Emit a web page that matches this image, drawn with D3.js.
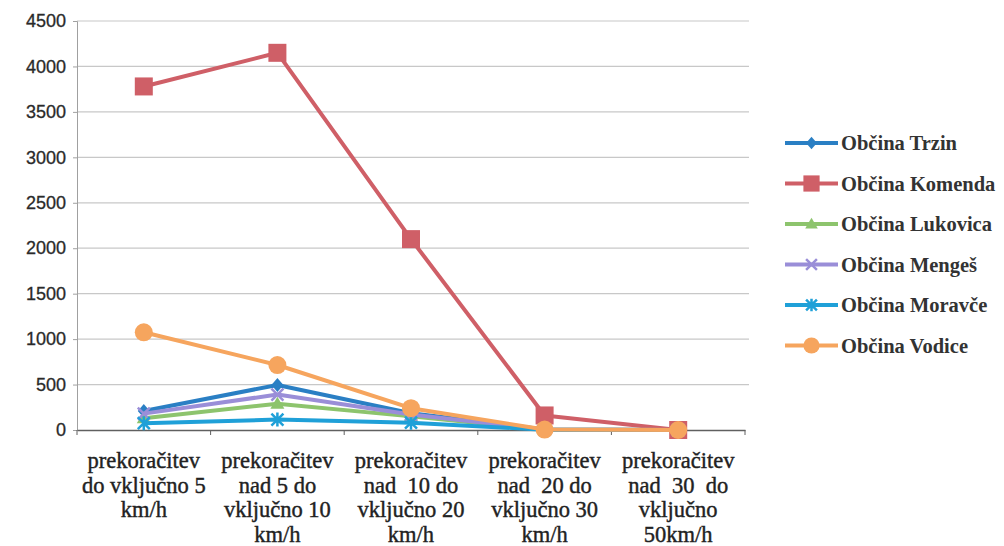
<!DOCTYPE html>
<html><head><meta charset="utf-8">
<script src="https://cdn.jsdelivr.net/npm/d3@7"></script>
<style>body{margin:0;background:#fff}svg{display:block}</style>
</head><body><svg id="c" width="1004" height="546"></svg>
<script>
const categories = [
  ["prekoračitev","do vključno 5","km/h"],
  ["prekoračitev","nad 5 do","vključno 10","km/h"],
  ["prekoračitev","nad  10 do","vključno 20","km/h"],
  ["prekoračitev","nad  20 do","vključno 30","km/h"],
  ["prekoračitev","nad  30  do","vključno","50km/h"]
];
const seriesNames = ["Občina Trzin","Občina Komenda","Občina Lukovica","Občina Mengeš","Občina Moravče","Občina Vodice"];
const trzin    = [210, 495, 185, 5, 0];
const komenda  = [3780, 4150, 2100, 160, 0];
const lukovica = [130, 290, 150, 5, 0];
const menges   = [180, 390, 170, 5, 0];
const moravce  = [75, 115, 80, 3, 0];
const vodice   = [1075, 715, 240, 5, 0];
const yTicks = [0,500,1000,1500,2000,2500,3000,3500,4000,4500];

const colors = ["#2a7fc4","#cf5f67","#8dc46d","#9a8ed8","#1fa0d8","#f6a55e"];
const markers = ["diamond","square","triangle","x","star","circle"];
const seriesVals = [trzin, komenda, lukovica, menges, moravce, vodice];

const SERIF = '"Liberation Serif", "Times New Roman", serif';
const SANS = '"Liberation Sans", Arial, sans-serif';

const svg = d3.select("#c");
const L=77, R=745, T=21, B=430;
const x = d3.scaleBand().domain(d3.range(categories.length)).range([L,R]);
const y = d3.scaleLinear().domain([0,4500]).range([B,T]);

// gridlines
svg.append("g").selectAll("line").data(yTicks.filter(d=>d>0)).join("line")
  .attr("x1",L).attr("x2",R+4).attr("y1",d=>y(d)).attr("y2",d=>y(d))
  .attr("stroke","#c8c8c8").attr("stroke-width",1.2);

// y axis
const ya = svg.append("g").attr("transform",`translate(${L},0)`)
  .call(d3.axisLeft(y).tickValues(yTicks).tickSize(4).tickPadding(7).tickFormat(d3.format("d")));
ya.attr("font-family",null);
ya.select(".domain").attr("stroke","#a0a0a0");
ya.selectAll(".tick line").attr("stroke","#a0a0a0");
ya.selectAll("text").style("font-family",SANS).style("font-size","18px")
  .attr("fill","#2a2a2a").attr("stroke","#2a2a2a").attr("stroke-width",0.3);

// x axis
const xa = svg.append("g").attr("transform",`translate(0,${B})`)
  .call(d3.axisBottom(x).tickSize(0).tickFormat(""));
xa.select(".domain").attr("stroke","#606060").attr("stroke-width",1.3);
svg.append("g").selectAll("line").data(d3.range(categories.length+1)).join("line")
  .attr("x1",d=>L+d*x.step()).attr("x2",d=>L+d*x.step()).attr("y1",B).attr("y2",B+5)
  .attr("stroke","#606060");

// category labels
const cl = svg.append("g").selectAll("text").data(categories).join("text")
  .attr("x",(d,i)=>x(i)+x.bandwidth()/2).attr("y",B+38)
  .attr("text-anchor","middle")
  .style("font-family",SERIF).style("font-size","22.5px").style("white-space","pre")
  .attr("fill","#222").attr("stroke","#222").attr("stroke-width",0.4);
cl.each(function(d){
  d3.select(this).selectAll("tspan").data(d).join("tspan")
    .attr("x",d3.select(this).attr("x")).attr("dy",(t,j)=>j===0?0:24.5).text(t=>t);
});

function drawMarker(g, type, color, cx, cy, scale){
  const s = scale||1;
  if(type==="diamond"){
    g.append("path").attr("d",`M${cx},${cy-7*s}L${cx+6*s},${cy}L${cx},${cy+7*s}L${cx-6*s},${cy}Z`).attr("fill",color);
  } else if(type==="square"){
    g.append("rect").attr("x",cx-9*s).attr("y",cy-9*s).attr("width",18*s).attr("height",18*s).attr("fill",color);
  } else if(type==="triangle"){
    g.append("path").attr("d",`M${cx},${cy-7*s}L${cx+7*s},${cy+5*s}L${cx-7*s},${cy+5*s}Z`).attr("fill",color);
  } else if(type==="x"){
    g.append("path").attr("d",`M${cx-6*s},${cy-6*s}L${cx+6*s},${cy+6*s}M${cx+6*s},${cy-6*s}L${cx-6*s},${cy+6*s}`).attr("stroke",color).attr("stroke-width",2.5);
  } else if(type==="star"){
    g.append("path").attr("d",`M${cx-6*s},${cy-6*s}L${cx+6*s},${cy+6*s}M${cx+6*s},${cy-6*s}L${cx-6*s},${cy+6*s}M${cx},${cy-7*s}L${cx},${cy+7*s}`).attr("stroke",color).attr("stroke-width",2.5);
  } else {
    g.append("circle").attr("cx",cx).attr("cy",cy).attr("r",9*s).attr("fill",color);
  }
}

const line = d3.line().x((d,i)=>x(i)+x.bandwidth()/2).y(d=>y(d));
seriesVals.forEach((vals,si)=>{
  const g = svg.append("g");
  g.append("path").attr("d",line(vals)).attr("fill","none")
    .attr("stroke",colors[si]).attr("stroke-width",4).attr("stroke-linejoin","round");
  vals.forEach((v,i)=>drawMarker(g, markers[si], colors[si], x(i)+x.bandwidth()/2, y(v)));
});

// legend
const lg = svg.append("g");
seriesNames.forEach((n,i)=>{
  const cy = 143 + i*40.5;
  lg.append("line").attr("x1",785).attr("x2",838).attr("y1",cy).attr("y2",cy)
    .attr("stroke",colors[i]).attr("stroke-width",4);
  drawMarker(lg, markers[i], colors[i], 811.5, cy, 0.9);
  lg.append("text").attr("x",841).attr("y",cy+7).text(n)
    .style("font-family",SERIF).style("font-size","20.5px").style("font-weight","bold")
    .attr("fill","#333");
});
</script></body></html>
